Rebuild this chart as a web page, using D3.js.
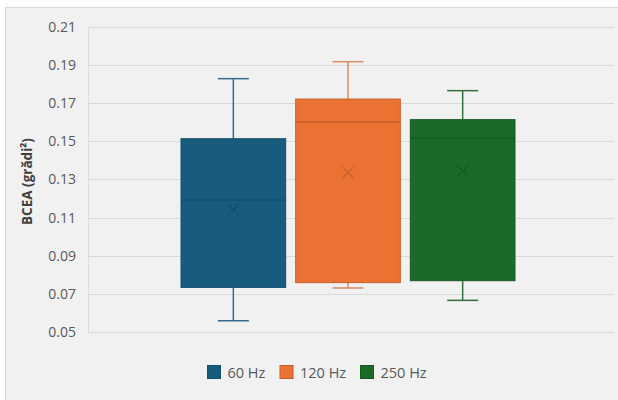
<!DOCTYPE html>
<html><head><meta charset="utf-8">
<script src="https://cdn.jsdelivr.net/npm/d3@7"></script>
<style>html,body{margin:0;padding:0;background:#fff;}svg{display:block;font-family:"Open Sans",sans-serif;}</style>
</head><body><svg id="c" width="618" height="400"></svg>
<script>
const series = ["60 Hz", "120 Hz", "250 Hz"];
const mins    = [0.0559, 0.0731, 0.0666];
const q1s     = [0.0734, 0.0759, 0.0769];
const medians = [0.1191, 0.1602, 0.1517];
const means   = [0.1140, 0.1336, 0.1345];
const q3s     = [0.1514, 0.1722, 0.1614];
const maxs    = [0.1829, 0.1918, 0.1766];
const yTicks  = [0.05, 0.07, 0.09, 0.11, 0.13, 0.15, 0.17, 0.19, 0.21];
const fills   = ["#175c7d", "#ea7233", "#1b6a27"];
const strokes = ["#144f6c", "#c8602a", "#175a21"];
const whisk   = ["#356d8d", "#d68c66", "#336f3f"];
const yTitle = "BCEA (grădi²)";

const svg = d3.select("#c");
svg.append("rect").attr("x",5.5).attr("y",7.5).attr("width",620).attr("height",400)
  .attr("fill","#f1f1f1").attr("stroke","#d9d9d9");

const plotL = 88, plotR = 614;
const y = d3.scaleLinear().domain([0.05, 0.21]).range([332, 27]);
const x = d3.scaleBand().domain(series).range([181, 515]).paddingInner(0.087).paddingOuter(0);

// grid
svg.append("g").selectAll("line").data(yTicks).join("line")
  .attr("x1", plotL).attr("x2", plotR)
  .attr("y1", d => Math.round(y(d)) + 0.5).attr("y2", d => Math.round(y(d)) + 0.5)
  .attr("stroke", "#d9d9d9").attr("stroke-width", 1.2);
svg.append("line").attr("x1", plotL+0.5).attr("x2", plotL+0.5).attr("y1", y(0.21)).attr("y2", y(0.05))
  .attr("stroke", "#dcdcdc");

// y axis labels
const ax = svg.append("g").attr("transform", `translate(${plotL},0)`)
  .call(d3.axisLeft(y).tickValues(yTicks).tickFormat(d3.format(".2f")).tickSize(0).tickPadding(12));
ax.select(".domain").remove();
ax.selectAll("text").attr("fill", "#595959").attr("font-size", 14).attr("font-family", "'Open Sans',sans-serif");

svg.append("text").attr("transform", `translate(32,${(y(0.21)+y(0.05))/2 + 2}) rotate(-90)`)
  .attr("text-anchor", "middle").attr("font-size", 13.5).attr("font-weight", "bold").attr("fill", "#404040")
  .text(yTitle);

// boxes
const data = series.map((s, i) => ({s, i, min: mins[i], q1: q1s[i], med: medians[i], mean: means[i], q3: q3s[i], max: maxs[i]}));
const g = svg.append("g").selectAll("g").data(data).join("g");
const cx = d => x(d.s) + x.bandwidth() / 2;
const capW = 31;
// whiskers
g.append("line").attr("x1", cx).attr("x2", cx).attr("y1", d => y(d.max)).attr("y2", d => y(d.q3))
  .attr("stroke", d => whisk[d.i]).attr("stroke-width", 1.5);
g.append("line").attr("x1", cx).attr("x2", cx).attr("y1", d => y(d.q1)).attr("y2", d => y(d.min))
  .attr("stroke", d => whisk[d.i]).attr("stroke-width", 1.5);
g.append("line").attr("x1", d => cx(d) - capW/2).attr("x2", d => cx(d) + capW/2).attr("y1", d => y(d.max)).attr("y2", d => y(d.max))
  .attr("stroke", d => whisk[d.i]).attr("stroke-width", 1.5);
g.append("line").attr("x1", d => cx(d) - capW/2).attr("x2", d => cx(d) + capW/2).attr("y1", d => y(d.min)).attr("y2", d => y(d.min))
  .attr("stroke", d => whisk[d.i]).attr("stroke-width", 1.5);
// box
g.append("rect").attr("x", d => x(d.s)).attr("width", x.bandwidth())
  .attr("y", d => y(d.q3)).attr("height", d => y(d.q1) - y(d.q3))
  .attr("fill", d => fills[d.i]).attr("stroke", d => strokes[d.i]).attr("stroke-width", 1);
// median
g.append("line").attr("x1", d => x(d.s)).attr("x2", d => x(d.s) + x.bandwidth())
  .attr("y1", d => y(d.med)).attr("y2", d => y(d.med))
  .attr("stroke", d => strokes[d.i]).attr("stroke-width", 1.5);
// mean X
const xs = 5.5;
g.append("path").attr("d", d => { const X = cx(d), Y = y(d.mean); return `M${X-xs},${Y-xs}L${X+xs},${Y+xs}M${X-xs},${Y+xs}L${X+xs},${Y-xs}`; })
  .attr("stroke", d => strokes[d.i]).attr("stroke-width", 1.3).attr("fill", "none");

// legend
const legX = [207, 279.5, 360];
const lg = svg.append("g").selectAll("g").data(series).join("g")
  .attr("transform", (d, i) => `translate(${legX[i]},365)`);
lg.append("rect").attr("width", 13).attr("height", 13).attr("x", 0.5).attr("y", 0.5)
  .attr("fill", (d, i) => fills[i]).attr("stroke", (d, i) => strokes[i]);
lg.append("text").attr("x", 20.5).attr("y", 12.5).attr("font-size", 14.5).attr("fill", "#595959").text(d => d);
</script></body></html>
